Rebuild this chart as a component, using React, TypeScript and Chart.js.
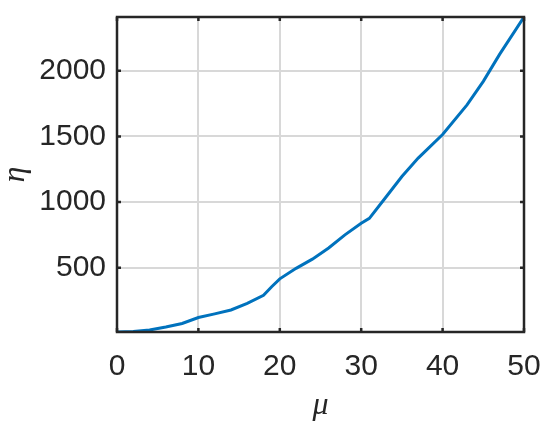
import React, { useEffect, useRef } from "react";
import { Chart, registerables } from "chart.js";

Chart.register(...registerables);

const muValues = [0, 2, 4, 6, 8, 10, 12, 14, 16, 18, 19, 20, 22, 24, 26, 28, 30, 31, 33, 35, 37, 40, 43, 45, 47, 50];
const etaValues = [10, 14, 25, 48, 75, 120, 148, 178, 228, 290, 355, 415, 495, 565, 650, 750, 838, 876, 1035, 1195, 1335, 1515, 1740, 1920, 2125, 2410];
const xTicks = [0, 10, 20, 30, 40, 50];
const yTicks = [500, 1000, 1500, 2000];
const xLabel = "μ";
const yLabel = "η";

const textColor = "#262626";
const axisColor = "#262626";
const gridColor = "#d8d8d8";
const lineColor = "#0072BD";

const boxPlugin = {
  id: "matlabBox",
  afterDraw(chart: any) {
    const { ctx, chartArea, scales } = chart;
    const { left, right, top, bottom } = chartArea;
    ctx.save();
    ctx.strokeStyle = axisColor;
    ctx.lineWidth = 2.5;
    const tl = 4;
    ctx.beginPath();
    for (const v of xTicks) {
      const px = scales.x.getPixelForValue(v);
      ctx.moveTo(px, bottom);
      ctx.lineTo(px, bottom - tl);
      ctx.moveTo(px, top);
      ctx.lineTo(px, top + tl);
    }
    for (const v of yTicks) {
      const py = scales.y.getPixelForValue(v);
      ctx.moveTo(left, py);
      ctx.lineTo(left + tl, py);
      ctx.moveTo(right, py);
      ctx.lineTo(right - tl, py);
    }
    ctx.stroke();
    ctx.strokeRect(left, top, right - left, bottom - top);
    ctx.restore();
  },
};

export default function App() {
  const ref = useRef<HTMLCanvasElement | null>(null);
  useEffect(() => {
    if (!ref.current) return;
    const chart = new Chart(ref.current, {
      type: "line",
      data: {
        datasets: [
          {
            data: muValues.map((x, i) => ({ x, y: etaValues[i] })),
            borderColor: lineColor,
            borderWidth: 3,
            pointRadius: 0,
            tension: 0,
            fill: false,
          },
        ],
      },
      options: {
        animation: false,
        responsive: false,
        maintainAspectRatio: false,
        layout: { padding: { left: 0, right: 26, top: 17, bottom: 0 } },
        plugins: { legend: { display: false }, tooltip: { enabled: false } },
        scales: {
          x: {
            type: "linear",
            min: 0,
            max: 50,
            afterBuildTicks: (s: any) => {
              s.ticks = xTicks.map((v) => ({ value: v }));
            },
            afterFit: (s: any) => {
              s.height = 94;
              s.paddingLeft = 0;
              s.paddingRight = 0;
            },
            grid: { color: gridColor, lineWidth: 2, drawTicks: false },
            border: { display: false },
            ticks: {
              color: textColor,
              padding: 17,
              maxRotation: 0,
              autoSkip: false,
              callback: (v: any) => String(v),
              font: { family: "Liberation Sans", size: 30 },
            },
            title: {
              display: true,
              text: xLabel,
              color: textColor,
              font: { family: "Liberation Serif", style: "italic", size: 32, lineHeight: 1.2 },
              padding: { top: 0, bottom: 1 },
            },
          },
          y: {
            type: "linear",
            min: 10,
            max: 2410,
            afterBuildTicks: (s: any) => {
              s.ticks = yTicks.map((v) => ({ value: v }));
            },
            afterFit: (s: any) => {
              s.width = 117;
              s.paddingTop = 0;
              s.paddingBottom = 0;
            },
            grid: { color: gridColor, lineWidth: 2, drawTicks: false },
            border: { display: false },
            ticks: {
              color: textColor,
              padding: 11,
              autoSkip: false,
              callback: (v: any) => String(v),
              font: { family: "Liberation Sans", size: 30 },
            },
            title: {
              display: true,
              text: yLabel,
              color: textColor,
              font: { family: "Liberation Serif", style: "italic", size: 32, lineHeight: 1.0 },
              padding: { top: 0, bottom: 0 },
            },
          },
        },
      },
      plugins: [boxPlugin],
    });
    return () => chart.destroy();
  }, []);
  return (
    <div style={{ position: "fixed", left: 0, top: 0, width: 550, height: 426, background: "#fff" }}>
      <canvas ref={ref} width={550} height={426} style={{ display: "block", width: 550, height: 426 }} />
    </div>
  );
}
